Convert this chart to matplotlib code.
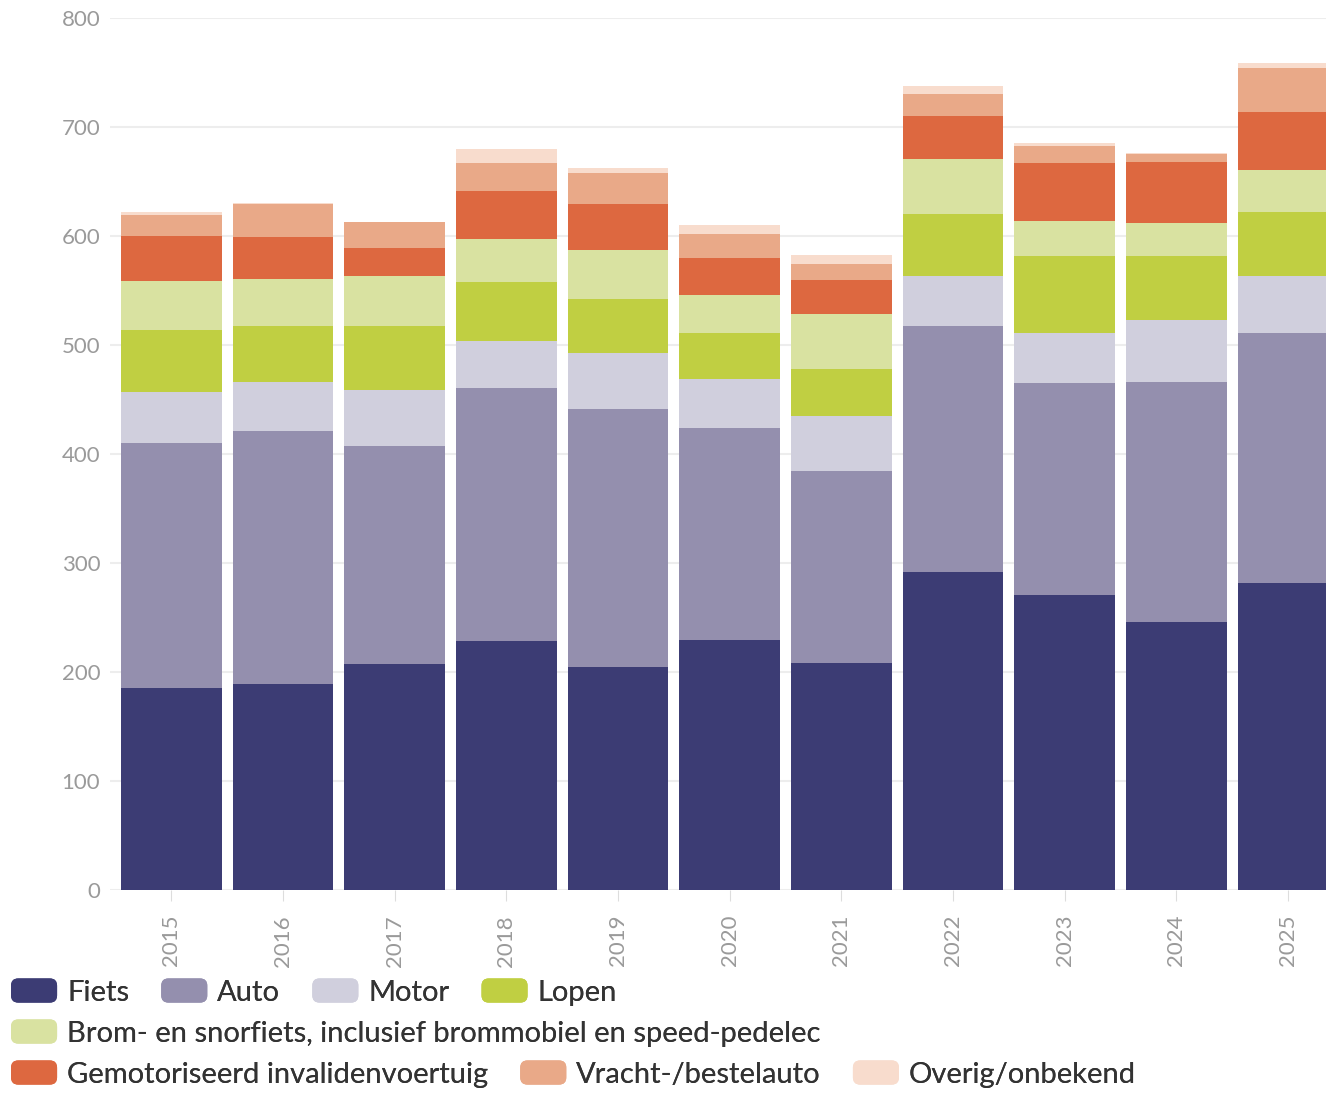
import numpy as np
import matplotlib.pyplot as plt
from matplotlib.patches import Rectangle, FancyBboxPatch
from matplotlib.legend_handler import HandlerPatch

plt.rcParams["font.family"] = ["Lato", "DejaVu Sans"]

years = ["2015", "2016", "2017", "2018", "2019", "2020", "2021", "2022", "2023", "2024", "2025"]

fiets = [185, 189, 207, 228, 205, 229, 208, 292, 271, 246, 282]
auto = [225, 232, 200, 233, 236, 195, 176, 225, 194, 220, 229]
motor = [47, 45, 52, 43, 52, 45, 51, 46, 46, 57, 52]
lopen = [57, 51, 58, 54, 49, 42, 43, 57, 71, 59, 59]
brom = [45, 44, 46, 39, 45, 35, 50, 51, 32, 30, 39]
invalide = [41, 38, 26, 44, 42, 34, 32, 39, 53, 56, 53]
vracht = [19, 30, 24, 26, 29, 22, 14, 20, 16, 7, 40]
overig = [3, 1, 0, 13, 4, 8, 9, 8, 2, 1, 5]

labels = ["Fiets", "Auto", "Motor", "Lopen",
          "Brom- en snorfiets, inclusief brommobiel en speed-pedelec",
          "Gemotoriseerd invalidenvoertuig", "Vracht-/bestelauto", "Overig/onbekend"]
series = [fiets, auto, motor, lopen, brom, invalide, vracht, overig]
colors = ["#3c3c74", "#948fae", "#d0cfdd", "#c0cf42", "#d9e2a1", "#dd6840", "#e9a988", "#f8dccd"]


class RoundHandler(HandlerPatch):
    # rounded legend swatches
    def create_artists(self, legend, orig_handle, xdescent, ydescent, width, height, fontsize, trans):
        p = FancyBboxPatch((-xdescent, -ydescent), width, height,
                           boxstyle="round,pad=0,rounding_size=%f" % (height * 0.3),
                           facecolor=orig_handle.get_facecolor(), edgecolor="none",
                           transform=trans)
        return [p]


W, H = 1326, 1093
fig = plt.figure(figsize=(W / 100, H / 100), dpi=100)
ax = fig.add_axes([110 / W, (H - 890) / H, (W - 110) / W, (890 - 18) / H])

x = np.arange(len(years))
bottom = np.zeros(len(years))
bars = []
for vals, lab, col in zip(series, labels, colors):
    b = ax.bar(x, vals, 0.9, bottom=bottom, color=col, label=lab, linewidth=0)
    bars.append(b)
    bottom += np.array(vals)

ax.set_ylim(0, 800)
ax.set_xlim(-0.55, 10.34)
ax.set_yticks(range(0, 801, 100))
ax.set_xticks(x)
ax.set_xticklabels(years, rotation=90)
ax.grid(axis="y", color="#ededed", linewidth=1.5)
ax.set_axisbelow(True)
for s in ax.spines.values():
    s.set_visible(False)
ax.tick_params(axis="y", length=0, pad=7, labelsize=16, labelcolor="#9a9a9a")
ax.tick_params(axis="x", length=8, color="#dddddd", pad=10, labelsize=16, labelcolor="#9a9a9a")

handles = [b.patches[0] for b in bars]
rows = [[0, 1, 2, 3], [4], [5, 6, 7]]
row_y = [992, 1033, 1074]
for idx, yy in zip(rows, row_y):
    leg = fig.legend([handles[i] for i in idx], [labels[i] for i in idx],
                     loc="center left", bbox_to_anchor=(11 / W, 1 - yy / H),
                     ncol=len(idx), frameon=False, fontsize=21,
                     handlelength=1.58, handleheight=0.9, handletextpad=0.34,
                     columnspacing=1.1, borderpad=0, borderaxespad=0,
                     handler_map={Rectangle: RoundHandler()})
    for t in leg.get_texts():
        t.set_color("#333333")
    fig.add_artist(leg)

fig.savefig("out.png", dpi=100)
